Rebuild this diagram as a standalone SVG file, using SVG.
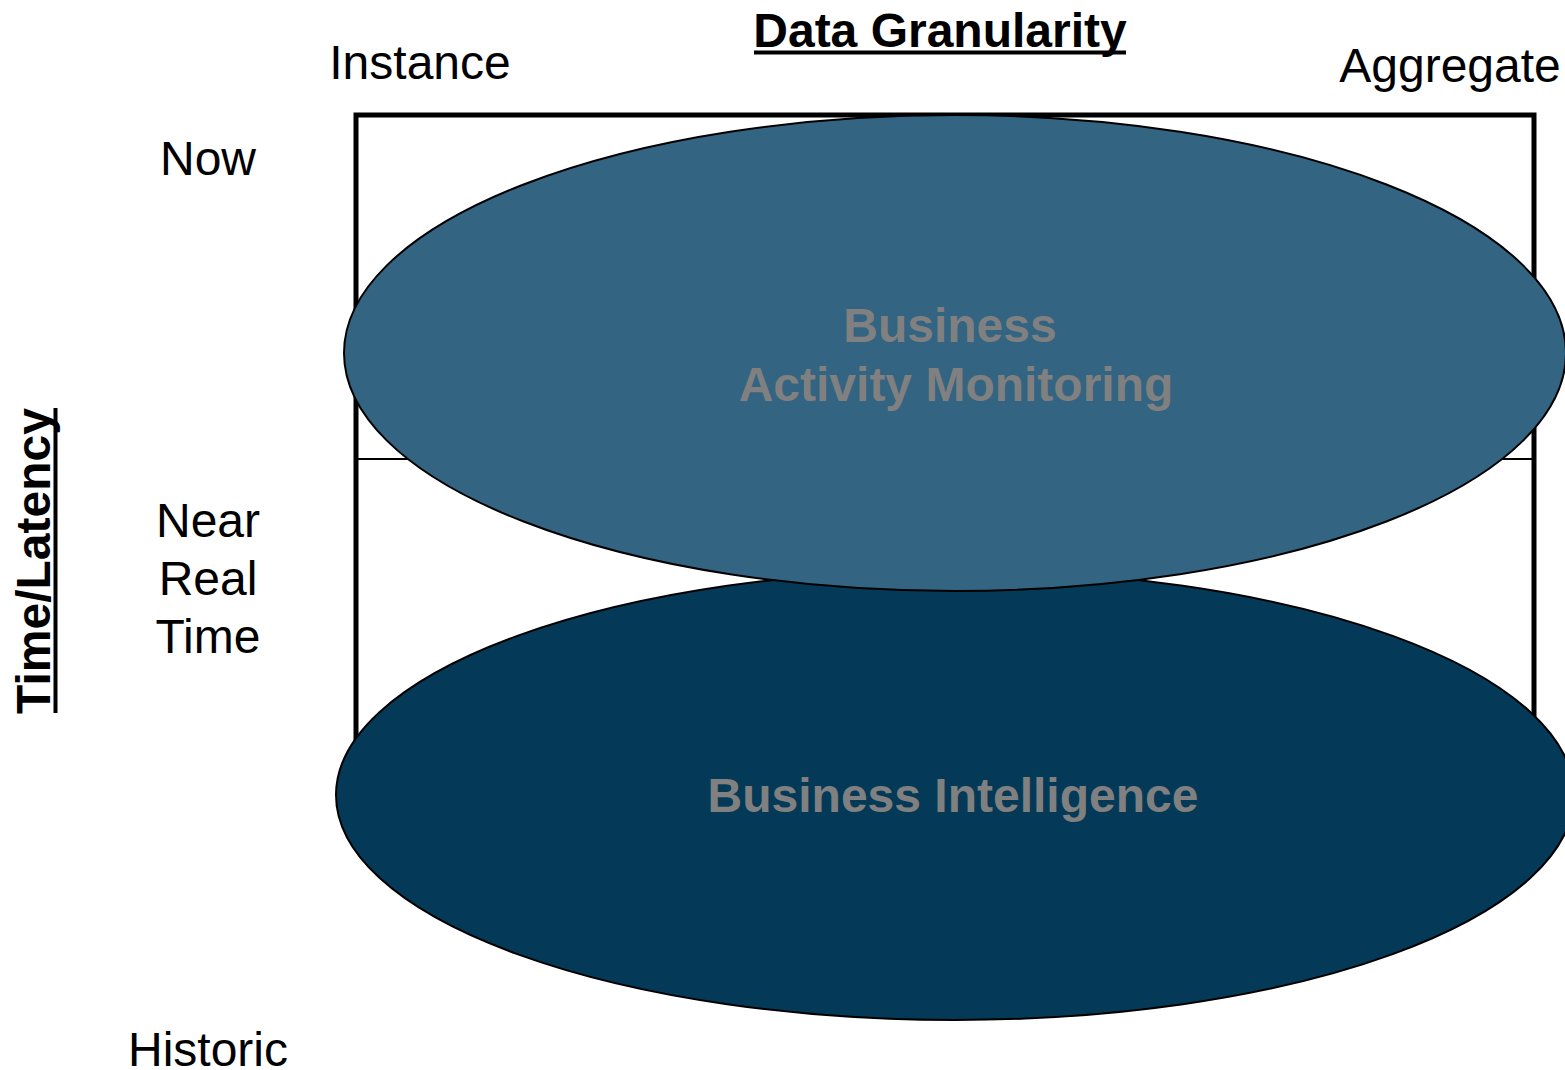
<svg xmlns="http://www.w3.org/2000/svg" width="1565" height="1070" viewBox="0 0 1565 1070">
<style>
.lbl{font-family:"Liberation Sans",Arial,sans-serif;font-size:48px;fill:#000;text-anchor:middle}
.ttl{font-family:"Liberation Sans",Arial,sans-serif;font-size:48px;font-weight:bold;fill:#000;text-anchor:middle}
.in{font-family:"Liberation Sans",Arial,sans-serif;font-size:48px;font-weight:bold;fill:#808080;text-anchor:middle}
.ul{fill:#000}
</style>
<rect width="1565" height="1070" fill="#fff"/>
<g id="grid">
<rect x="356" y="115" width="1178" height="700" fill="none" stroke="#000" stroke-width="5"/>
<line x1="358" y1="459" x2="1532" y2="459" stroke="#000" stroke-width="2"/>
</g>
<g id="bi">
<ellipse cx="955" cy="795" rx="619" ry="225" fill="#043a57" stroke="#000" stroke-width="2"/>
<text class="in" x="953" y="812">Business Intelligence</text>
</g>
<g id="bam">
<ellipse cx="955" cy="353" rx="611" ry="238" fill="#336482" stroke="#000" stroke-width="2"/>
<text class="in" x="950" y="342">Business</text>
<text class="in" x="956" y="401">Activity Monitoring</text>
</g>
<g id="labels">
<text class="ttl" x="940" y="47">Data Granularity</text>
<rect class="ul" x="754" y="50.5" width="372" height="4"/>
<text class="lbl" x="420" y="79">Instance</text>
<text class="lbl" x="1450" y="82">Aggregate</text>
<text class="lbl" x="208" y="175">Now</text>
<text class="lbl" x="208" y="537">Near</text>
<text class="lbl" x="208" y="595">Real</text>
<text class="lbl" x="208" y="653">Time</text>
<text class="lbl" x="208" y="1066">Historic</text>
<text class="ttl" transform="translate(50,561) rotate(-90)" x="0" y="0">Time/Latency</text>
<rect class="ul" x="53.5" y="408" width="4" height="305"/>
</g>
</svg>
